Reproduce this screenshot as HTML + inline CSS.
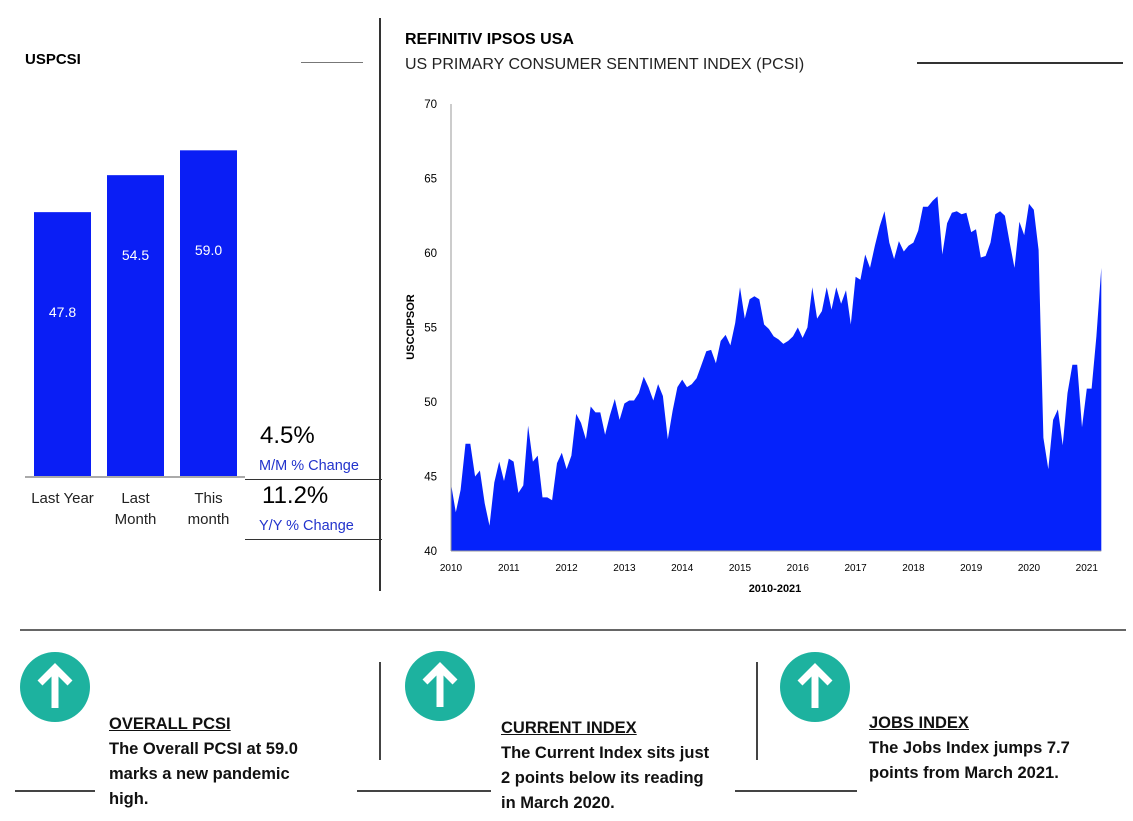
<!DOCTYPE html>
<html><head><meta charset="utf-8"><style>
body{margin:0;width:1133px;height:821px;background:#fff;position:relative;overflow:hidden;font-family:"Liberation Sans",sans-serif}
.a{position:absolute;margin:0}
.ln{position:absolute;background:#555}
.bt{position:absolute;font-family:"Liberation Sans",sans-serif;font-weight:bold;font-size:16.5px;line-height:25px;color:#111}
.bt u{text-decoration:underline}
</style></head><body>
<div class="a" style="left:25px;top:51px;font-weight:bold;font-size:15px">USPCSI</div>
<div class="ln" style="left:301px;top:62px;width:62px;height:1px;background:#777"></div>
<div class="a" style="left:405px;top:31px;font-weight:bold;font-size:16px">REFINITIV IPSOS USA</div>
<div class="a" style="left:405px;top:56px;font-size:16px;color:#222">US PRIMARY CONSUMER SENTIMENT INDEX (PCSI)</div>
<div class="ln" style="left:917px;top:62px;width:206px;height:2px;background:#333"></div>
<div class="ln" style="left:379px;top:18px;width:2px;height:573px;background:#333"></div>
<div class="ln" style="left:20px;top:629px;width:1106px;height:2px;background:#666"></div>

<svg class="a" style="left:0;top:0" width="380" height="600">
<g id="bars"></g>
<line x1="25" y1="477" x2="245" y2="477" stroke="#555" stroke-width="1"/>
</svg>
<div class="a" style="left:260px;top:422px;font-size:24px">4.5%</div>
<div class="a" style="left:259px;top:458px;font-size:14.5px;color:#2233cc">M/M % Change</div>
<div class="ln" style="left:245px;top:479px;width:137px;height:1px;background:#333"></div>
<div class="a" style="left:262px;top:482px;font-size:24px">11.2%</div>
<div class="a" style="left:259px;top:518px;font-size:14.5px;color:#2233cc">Y/Y % Change</div>
<div class="ln" style="left:245px;top:539px;width:137px;height:1px;background:#333"></div>

<svg class="a" style="left:390px;top:90px" width="740" height="520">
<g id="area"></g>
</svg>

<svg class="a" style="left:0;top:640px" width="1133" height="100">
<g><circle cx="55" cy="47" r="35" fill="#1db29f"/><path d="M55 68V28M40 43L55 28L70 43" stroke="#fff" stroke-width="7" fill="none"/></g>
<g><circle cx="440" cy="46" r="35" fill="#1db29f"/><path d="M440 67V27M425 42L440 27L455 42" stroke="#fff" stroke-width="7" fill="none"/></g>
<g><circle cx="815" cy="47" r="35" fill="#1db29f"/><path d="M815 68V28M800 43L815 28L830 43" stroke="#fff" stroke-width="7" fill="none"/></g>
</svg>
<div class="ln" style="left:379px;top:662px;width:2px;height:98px;background:#444"></div>
<div class="ln" style="left:756px;top:662px;width:2px;height:98px;background:#444"></div>
<div class="ln" style="left:15px;top:790px;width:80px;height:2px;background:#444"></div>
<div class="ln" style="left:357px;top:790px;width:134px;height:2px;background:#444"></div>
<div class="ln" style="left:735px;top:790px;width:122px;height:2px;background:#444"></div>
<div class="bt" style="left:109px;top:712px"><u>OVERALL PCSI</u><br>The Overall PCSI at 59.0<br>marks a new pandemic<br>high.</div>
<div class="bt" style="left:501px;top:716px"><u>CURRENT INDEX</u><br>The Current Index sits just<br>2 points below its reading<br>in March 2020.</div>
<div class="bt" style="left:869px;top:711px"><u>JOBS INDEX</u><br>The Jobs Index jumps 7.7<br>points from March 2021.</div>

<script>
const barCats=["Last Year","Last\nMonth","This\nmonth"];
const barVals=[47.8,54.5,59.0];
const pcsiStartYear=2010;
const pcsiVals=[
44.5,42.6,44.1,47.2,47.2,45.0,45.4,43.2,41.7,44.6,46.0,44.7,
46.2,46.0,43.9,44.4,48.4,46.0,46.4,43.6,43.6,43.4,45.9,46.6,
45.5,46.4,49.2,48.6,47.5,49.7,49.3,49.3,47.8,49.1,50.2,48.8,
49.9,50.1,50.1,50.6,51.7,51.0,50.1,51.2,50.4,47.5,49.4,51.0,
51.5,51.0,51.2,51.6,52.5,53.4,53.5,52.6,54.1,54.5,53.8,55.3,
57.7,55.6,56.9,57.1,56.9,55.2,54.9,54.4,54.2,53.9,54.1,54.4,
55.0,54.3,55.0,57.7,55.6,56.1,57.7,56.2,57.7,56.6,57.5,55.2,
58.4,58.2,59.9,59.0,60.5,61.8,62.8,60.7,59.6,60.8,60.1,60.5,
60.7,61.5,63.1,63.1,63.5,63.8,59.9,62.0,62.7,62.8,62.6,62.7,
61.4,61.6,59.7,59.8,60.7,62.6,62.8,62.5,60.7,59.0,62.1,61.2,
63.3,62.9,60.2,47.6,45.5,48.8,49.5,47.1,50.6,52.5,52.5,48.3,
50.9,50.9,54.4,59.0];
const yTicks=[40,45,50,55,60,65,70];
const xTicks=[2010,2011,2012,2013,2014,2015,2016,2017,2018,2019,2020,2021];
const NS="http://www.w3.org/2000/svg";
function mk(t,a,p){const e=document.createElementNS(NS,t);for(const k in a)e.setAttribute(k,a[k]);p.appendChild(e);return e;}
const bg=document.getElementById('bars');
const bx=i=>34+i*73, bw=57, by=v=>476-v*5.52;
const labelY=[317,260,255];
barVals.forEach((v,i)=>{
 const r=mk('rect',{x:bx(i),y:by(v),width:bw,height:476-by(v),fill:'#0a1ef5'},bg);
 
 
 const t=mk('text',{x:bx(i)+bw/2,y:labelY[i],fill:'#fff','font-size':14,'text-anchor':'middle','font-family':'Liberation Sans'},bg);
 t.textContent=v.toFixed(1);
 
 
 barCats[i].split('\n').forEach((s,j)=>{
  const c=mk('text',{x:bx(i)+bw/2,y:503+j*21,'font-size':15,'text-anchor':'middle','font-family':'Liberation Sans',fill:'#222'},bg);
  c.textContent=s;
  
  
 });
});
const ag=document.getElementById('area');
const X=yr=>451-390+(yr-2010)*57.8, Y=v=>(551-90)-(v-40)*14.9;
let d='M'+X(pcsiStartYear)+' '+Y(40);
pcsiVals.forEach((v,i)=>{d+=' L'+X(pcsiStartYear+i/12).toFixed(1)+' '+Y(v).toFixed(1);});
d+=' L'+X(pcsiStartYear+(pcsiVals.length-1)/12).toFixed(1)+' '+Y(40)+'Z';
const ar=mk('path',{d:d,fill:'#0522fb'},ag);


mk('line',{x1:X(2010),y1:Y(70),x2:X(2010),y2:Y(40),stroke:'#999'},ag);
mk('line',{x1:X(2010),y1:Y(40),x2:X(2021.25),y2:Y(40),stroke:'#999'},ag);
yTicks.forEach(v=>{const t=mk('text',{x:X(2010)-14,y:Y(v)+4,'font-size':11.5,'text-anchor':'end','font-family':'Liberation Sans'},ag);t.textContent=v;
 
 });
xTicks.forEach(v=>{const t=mk('text',{x:X(v),y:Y(40)+20,'font-size':10,'text-anchor':'middle','font-family':'Liberation Sans'},ag);t.textContent=v;
 
 });
const yl=mk('text',{transform:'translate(24,237) rotate(-90)','font-size':11,'font-weight':'bold','text-anchor':'middle','font-family':'Liberation Sans'},ag);
yl.textContent='USCCIPSOR';


const xl=mk('text',{x:385,y:502,'font-size':11,'font-weight':'bold','text-anchor':'middle','font-family':'Liberation Sans'},ag);
xl.textContent='2010-2021';


</script>
</body></html>
